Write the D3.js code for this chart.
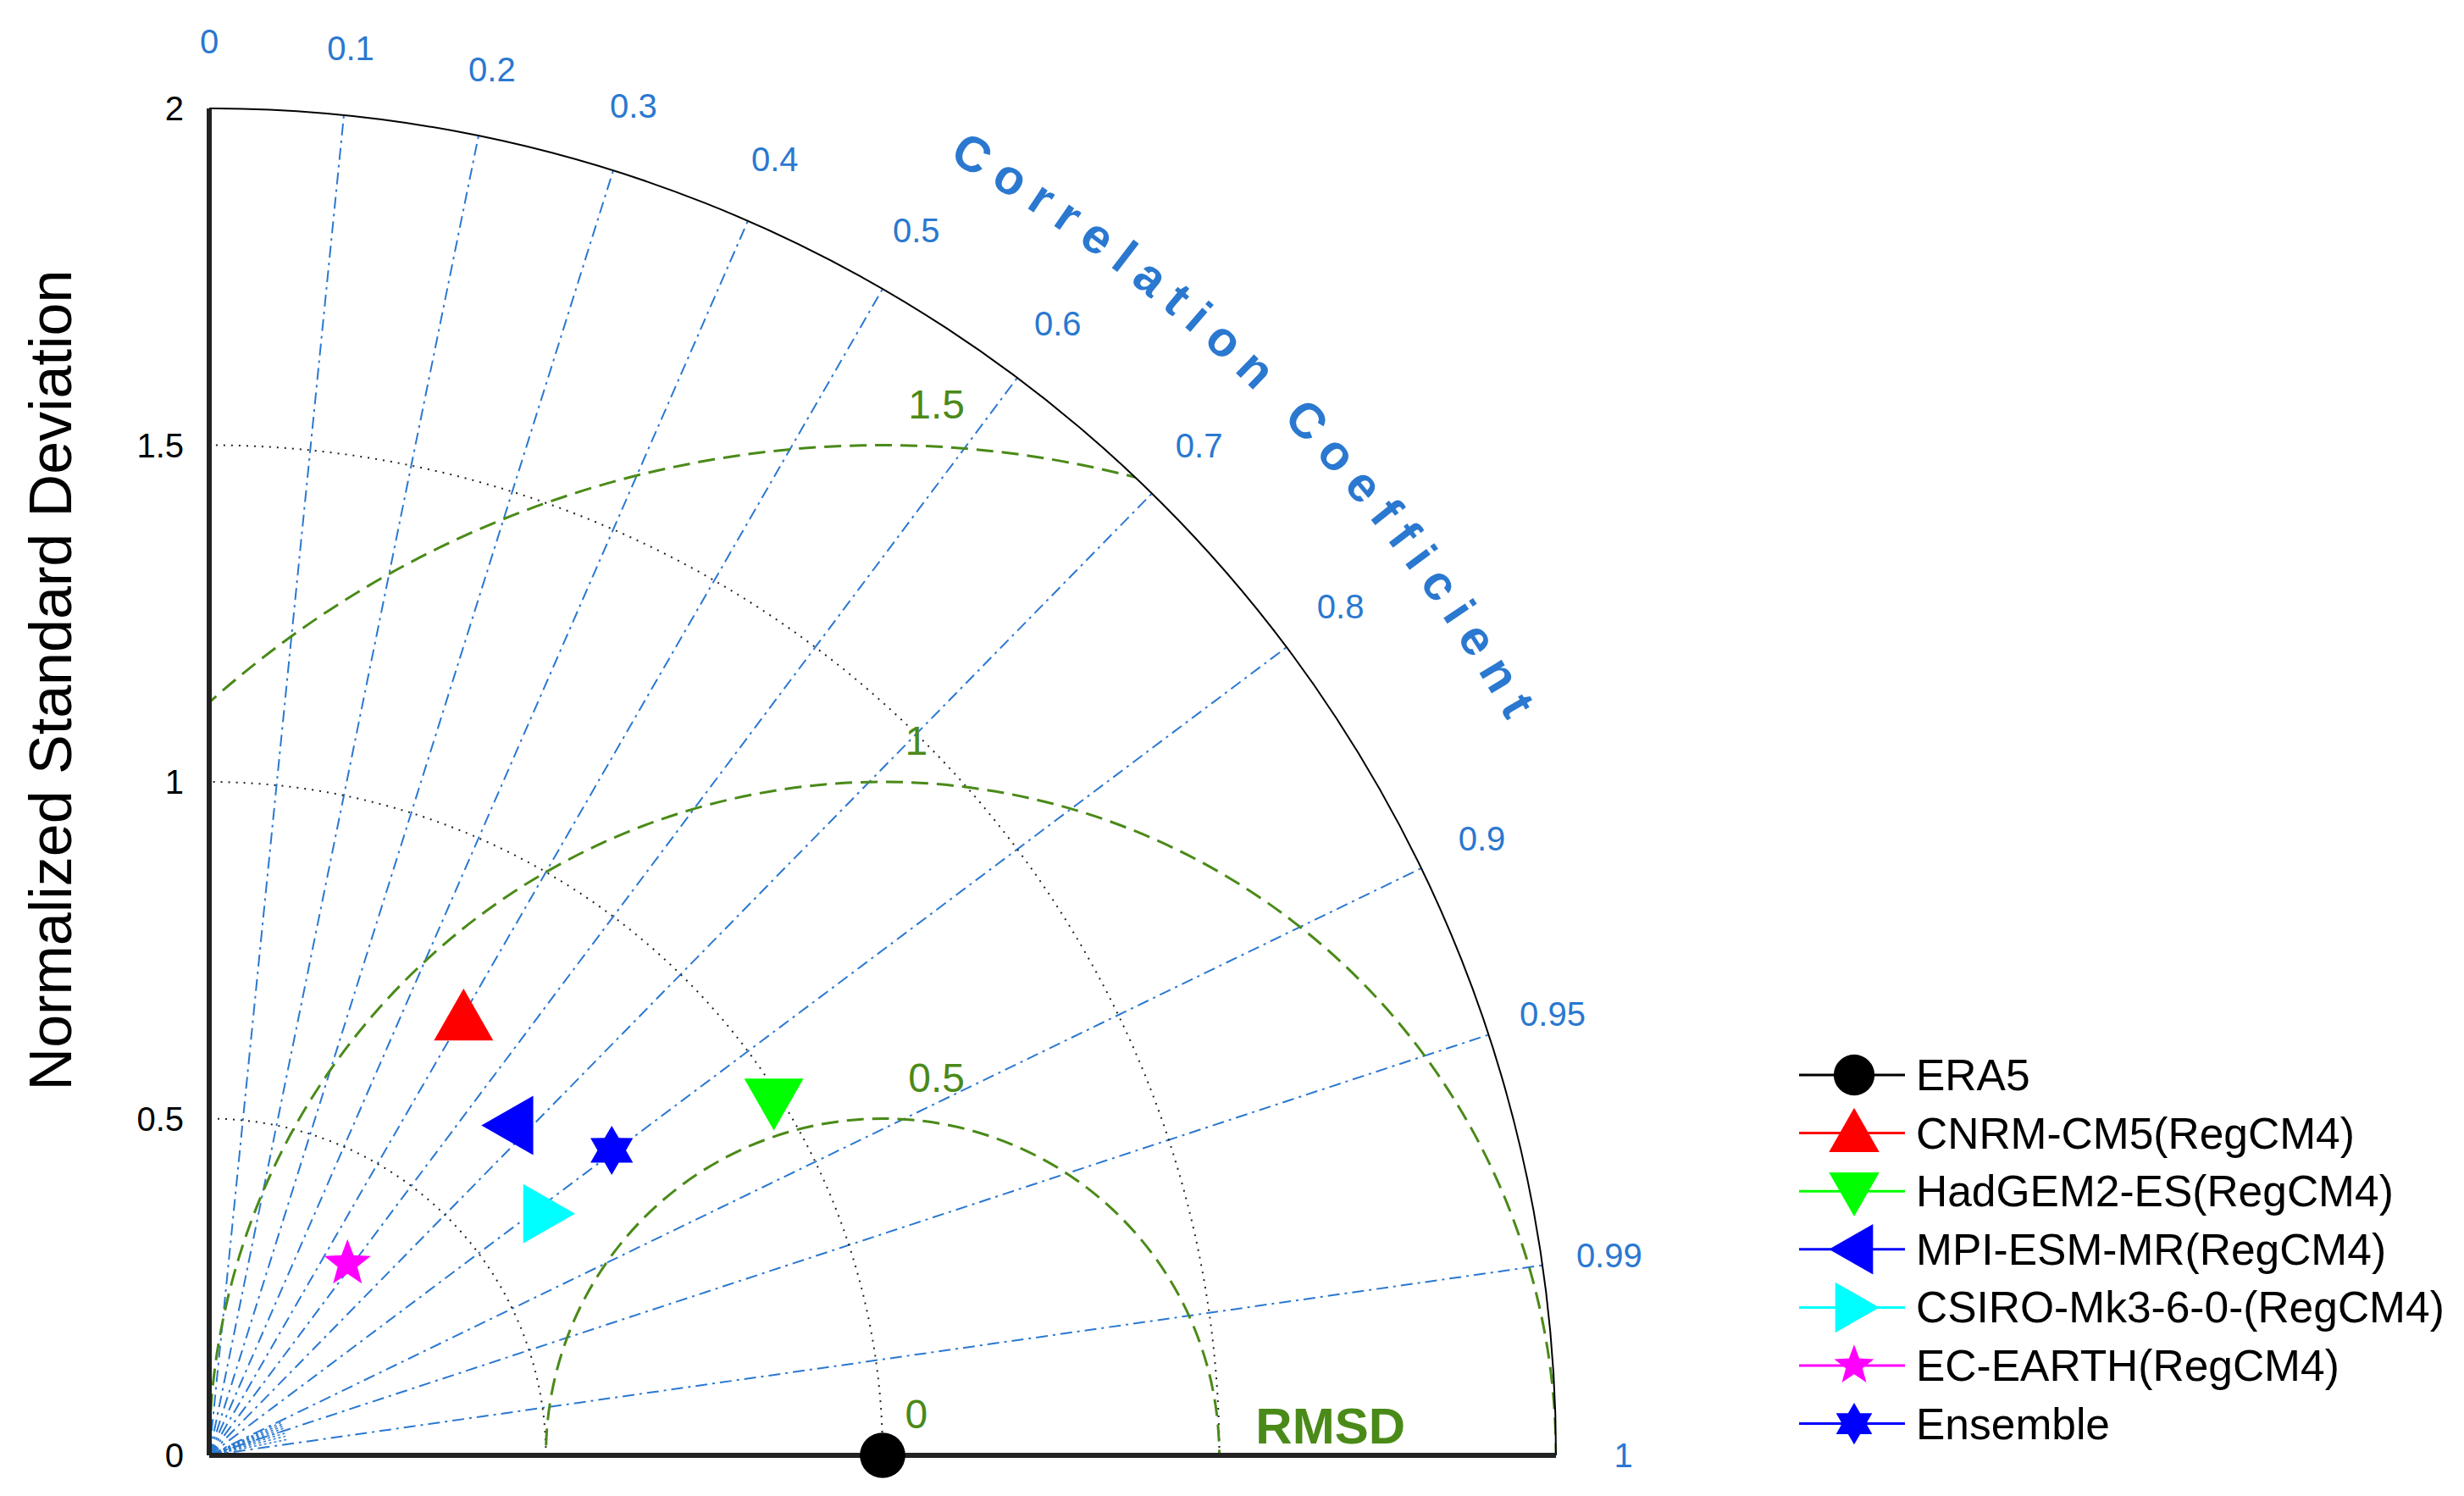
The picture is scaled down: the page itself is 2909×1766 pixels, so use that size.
<!DOCTYPE html>
<html><head><meta charset="utf-8">
<script src="https://cdn.jsdelivr.net/npm/d3@7"></script>
<style>body{margin:0;background:#fff}svg{font-family:Arial,"Liberation Sans",sans-serif}</style>
</head><body><svg id="c" width="2909" height="1766"></svg>
<script>
const models = ["ERA5","CNRM-CM5(RegCM4)","HadGEM2-ES(RegCM4)","MPI-ESM-MR(RegCM4)","CSIRO-Mk3-6-0-(RegCM4)","EC-EARTH(RegCM4)","Ensemble"];
const stdDev = [1.0, 0.751, 0.99, 0.664, 0.615, 0.351, 0.75];
const corr   = [1.0, 0.503, 0.847, 0.675, 0.812, 0.585, 0.797];
const colors = ["#000000","#ff0000","#00ff00","#0000ff","#00ffff","#ff00ff","#0000ff"];
const shapes = ["circle","up","down","left","right","star5","star6"];
const corrTicks = [0,0.1,0.2,0.3,0.4,0.5,0.6,0.7,0.8,0.9,0.95,0.99,1];
const stdTicks = [0,0.5,1,1.5,2];
const rmsdLevels = [0.5,1,1.5];

const svg = d3.select("#c");
const ox = 247, oy = 1718, R = 795;
const r = d3.scaleLinear().domain([0,1]).range([0,R]);
const X = (s,c)=> ox + r(s*c);
const Y = (s,c)=> oy - r(s*Math.sqrt(Math.max(0,1-c*c)));
const blue = "#2a78d0", green = "#4a8a18";

svg.append("defs").append("clipPath").attr("id","q").append("path")
  .attr("d",`M${ox},${oy} L${ox+r(2)},${oy} A${r(2)},${r(2)} 0 0 0 ${ox},${oy-r(2)} Z`);
const g = svg.append("g");

corrTicks.slice(1,-1).forEach(c=>{
  g.append("line").attr("x1",ox).attr("y1",oy).attr("x2",X(2,c)).attr("y2",Y(2,c))
   .attr("stroke",blue).attr("stroke-width",2).attr("stroke-dasharray","14,6,3,6");
});
d3.range(0.91,0.99,0.01).forEach(c=>{
  g.append("line").attr("x1",ox).attr("y1",oy).attr("x2",X(0.12,c)).attr("y2",Y(0.12,c))
   .attr("stroke",blue).attr("stroke-width",1.5).attr("stroke-dasharray","3,3");
});
[0.5,1,1.5].forEach(s=>{
  g.append("path").attr("d",`M${ox+r(s)},${oy} A${r(s)},${r(s)} 0 0 0 ${ox},${oy-r(s)}`)
   .attr("fill","none").attr("stroke","#222").attr("stroke-width",2).attr("stroke-dasharray","2,7");
});
rmsdLevels.forEach(l=>{
  g.append("circle").attr("cx",X(1,1)).attr("cy",oy).attr("r",r(l)).attr("clip-path","url(#q)")
   .attr("fill","none").attr("stroke",green).attr("stroke-width",3).attr("stroke-dasharray","20,10");
});
g.append("path").attr("d",`M${ox+r(2)},${oy} A${r(2)},${r(2)} 0 0 0 ${ox},${oy-r(2)}`)
 .attr("fill","none").attr("stroke","#000").attr("stroke-width",2);
g.append("line").attr("x1",ox).attr("y1",oy).attr("x2",ox+r(2)).attr("y2",oy).attr("stroke","#222").attr("stroke-width",6);
g.append("line").attr("x1",ox).attr("y1",oy).attr("x2",ox).attr("y2",oy-r(2)).attr("stroke","#222").attr("stroke-width",6);

stdTicks.forEach(s=>{
  g.append("text").attr("x",ox-30).attr("y",oy-r(s)+14).attr("text-anchor","end")
   .attr("font-size",40).text(s);
});
g.append("text").attr("transform",`translate(84,803) rotate(-90)`).attr("text-anchor","middle")
 .attr("font-size",70).text("Normalized Standard Deviation");

corrTicks.forEach(c=>{
  g.append("text").attr("x",X(2.1,c)).attr("y",Y(2.1,c)+14).attr("text-anchor","middle")
   .attr("font-size",40).attr("fill",blue).text(c);
});
const a0 = 60.3*Math.PI/180, a1 = 29.5*Math.PI/180, rt = r(2.215);
svg.append("defs").append("path").attr("id","arcT")
 .attr("d",`M${ox+rt*Math.cos(a0)},${oy-rt*Math.sin(a0)} A${rt},${rt} 0 0 1 ${ox+rt*Math.cos(a1)},${oy-rt*Math.sin(a1)}`);
g.append("text").attr("font-size",58).attr("font-weight","bold").attr("fill",blue)
 .append("textPath").attr("href","#arcT").attr("textLength",rt*(a0-a1)).attr("lengthAdjust","spacing")
 .text("Correlation Coefficient");

const rl = [[1.08,1.56,"1.5"],[1.05,1.06,"1"],[1.08,0.56,"0.5"],[1.05,0.06,"0"]];
rl.forEach(d=>{
  g.append("text").attr("x",ox+r(d[0])).attr("y",oy-r(d[1])+16).attr("text-anchor","middle")
   .attr("font-size",48).attr("fill",green).text(d[2]);
});
g.append("text").attr("x",ox+r(1.665)).attr("y",oy-r(0.04)+18).attr("text-anchor","middle")
 .attr("font-size",60).attr("font-weight","bold").attr("fill",green).text("RMSD");

function shapePath(type, s){
  const h=s/2;
  switch(type){
    case "circle": return d3.symbol(d3.symbolCircle, Math.PI*h*h*0.8)();
    case "up": return `M0,${-h}L${h},${h*0.75}L${-h},${h*0.75}Z`;
    case "down": return `M0,${h}L${h},${-h*0.75}L${-h},${-h*0.75}Z`;
    case "left": return `M${-h},0L${h*0.75},${-h}L${h*0.75},${h}Z`;
    case "right": return `M${h},0L${-h*0.75},${-h}L${-h*0.75},${h}Z`;
    case "star5": { let p=[]; for(let i=0;i<10;i++){const a=-Math.PI/2+i*Math.PI/5, rr=i%2?h*0.42:h; p.push([rr*Math.cos(a),rr*Math.sin(a)]);} return "M"+p.join("L")+"Z"; }
    case "star6": { let p=[]; for(let i=0;i<12;i++){const a=-Math.PI/2+i*Math.PI/6, rr=i%2?h*0.58:h; p.push([rr*Math.cos(a),rr*Math.sin(a)]);} return "M"+p.join("L")+"Z"; }
  }
}
const msize=[60,70,70,70,70,58,58];
models.forEach((m,i)=>{
  g.append("path").attr("d",shapePath(shapes[i],msize[i]))
   .attr("transform",`translate(${X(stdDev[i],corr[i])},${Y(stdDev[i],corr[i])})`)
   .attr("fill",colors[i]);
});

const lx=2124, ly=1269, dy=68.6;
models.forEach((m,i)=>{
  const y=ly+i*dy;
  g.append("line").attr("x1",lx).attr("x2",lx+125).attr("y1",y).attr("y2",y).attr("stroke",colors[i]).attr("stroke-width",3);
  g.append("path").attr("d",shapePath(shapes[i],msize[i]*(i==0?0.9:0.85))).attr("transform",`translate(${lx+65},${y})`).attr("fill",colors[i]);
  g.append("text").attr("x",lx+138).attr("y",y+18).attr("font-size",51.5).text(m);
});
</script></body></html>
